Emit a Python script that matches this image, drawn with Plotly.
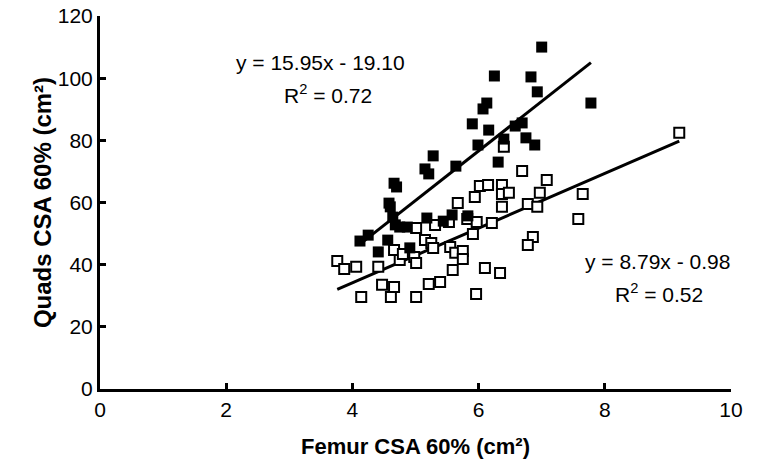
import plotly.graph_objects as go

# Filled squares (group 1)
filled_x = [7.00, 6.25, 6.83, 6.93, 7.78, 6.13, 6.07, 5.90, 6.16, 6.58, 6.69, 6.40, 5.99,
            6.75, 6.89, 5.28, 6.31, 5.15, 5.21, 5.64, 4.66, 4.70, 4.58, 4.60, 4.64, 4.68,
            4.75, 4.87, 5.18, 5.44, 5.58, 5.83, 4.25, 4.12, 4.56, 4.41, 4.91]
filled_y = [110.0, 100.7, 100.4, 95.6, 92.0, 92.0, 90.1, 85.3, 83.3, 84.6, 85.6, 80.4, 78.5,
            80.8, 78.5, 75.0, 73.0, 70.8, 69.2, 71.7, 66.2, 65.0, 59.8, 58.6, 55.3, 52.8,
            52.1, 52.1, 55.0, 54.0, 56.0, 55.7, 49.5, 47.6, 47.9, 44.1, 45.4]

# Open squares (group 2)
open_x = [3.76, 3.87, 4.06, 4.41, 4.14, 4.47, 4.66, 4.61, 5.01, 5.21, 5.39, 5.96, 5.59,
          6.10, 6.34, 4.66, 4.75, 4.80, 4.98, 5.01, 5.01, 5.15, 5.25, 5.28, 5.31, 5.53,
          5.55, 5.63, 5.75, 5.75, 5.67, 5.94, 6.02, 6.15, 6.37, 6.37, 6.48, 6.37, 5.82,
          5.97, 6.21, 5.91, 6.69, 6.40, 7.08, 6.97, 6.78, 6.93, 7.65, 7.58, 6.86, 6.78, 9.18]
open_y = [41.2, 38.6, 39.3, 39.3, 29.6, 33.5, 32.8, 29.6, 29.6, 33.8, 34.4, 30.6, 38.3,
          38.9, 37.3, 44.7, 41.5, 43.4, 42.5, 40.5, 51.8, 47.9, 47.0, 45.4, 52.8, 53.7,
          45.7, 43.8, 44.4, 41.8, 59.8, 61.8, 65.3, 65.6, 65.6, 62.7, 63.1, 58.6, 54.7,
          53.7, 53.4, 49.9, 70.1, 77.9, 67.2, 63.1, 59.5, 58.6, 62.7, 54.7, 48.9, 46.3, 82.4]

# Trend line equations as shown on the chart
filled_slope, filled_intercept = 15.95, -19.10
open_slope, open_intercept = 8.79, -0.98

x_ticks = [0, 2, 4, 6, 8, 10]
y_ticks = [0, 20, 40, 60, 80, 100, 120]

font_family = "Liberation Sans, Arial, Helvetica, sans-serif"

fx = [min(filled_x), max(filled_x)]
ox = [min(open_x), max(open_x)]

fig = go.Figure()
fig.add_trace(go.Scatter(x=fx, y=[filled_slope * v + filled_intercept for v in fx],
                         mode="lines", line=dict(color="black", width=3), hoverinfo="skip"))
fig.add_trace(go.Scatter(x=ox, y=[open_slope * v + open_intercept for v in ox],
                         mode="lines", line=dict(color="black", width=3), hoverinfo="skip"))
fig.add_trace(go.Scatter(x=open_x, y=open_y, mode="markers",
                         marker=dict(symbol="square", size=10, color="white",
                                     line=dict(color="black", width=2))))
fig.add_trace(go.Scatter(x=filled_x, y=filled_y, mode="markers",
                         marker=dict(symbol="square", size=11, color="black",
                                     line=dict(color="black", width=0))))

ann_font = dict(family=font_family, size=21, color="black")
fig.add_annotation(x=3.49, y=104.9, text="y = 15.95x - 19.10", showarrow=False, font=ann_font)
fig.add_annotation(x=3.61, y=94.9, text="R<sup>2</sup> = 0.72", showarrow=False, font=ann_font)
fig.add_annotation(x=8.83, y=40.9, text="y = 8.79x - 0.98", showarrow=False, font=ann_font)
fig.add_annotation(x=8.86, y=30.9, text="R<sup>2</sup> = 0.52", showarrow=False, font=ann_font)

axis_common = dict(showgrid=False, zeroline=False, showline=True, linecolor="black",
                   linewidth=3, ticks="inside", ticklen=6, tickwidth=3, tickcolor="black",
                   automargin=False, ticklabeloverflow="allow",
                   tickfont=dict(family=font_family, size=21, color="black"))

fig.update_layout(
    width=783, height=471,
    margin=dict(l=100, r=52, t=16, b=82),
    plot_bgcolor="white", paper_bgcolor="white",
    showlegend=False,
    xaxis=dict(range=[0, 10], tickvals=x_ticks, ticktext=[str(v) for v in x_ticks],
               title=dict(text="<b>Femur CSA 60% (cm²)</b>",
                          font=dict(family=font_family, size=22, color="black"), standoff=19),
               **axis_common),
    yaxis=dict(range=[0, 120], tickvals=y_ticks, ticktext=[str(v) for v in y_ticks],
               title=dict(text="<b>Quads CSA 60% (cm²)</b>",
                          font=dict(family=font_family, size=24, color="black"), standoff=0),
               **axis_common),
)

fig.write_html("out.html", config={"displayModeBar": False},
               post_script="document.body.style.margin='0px';")
